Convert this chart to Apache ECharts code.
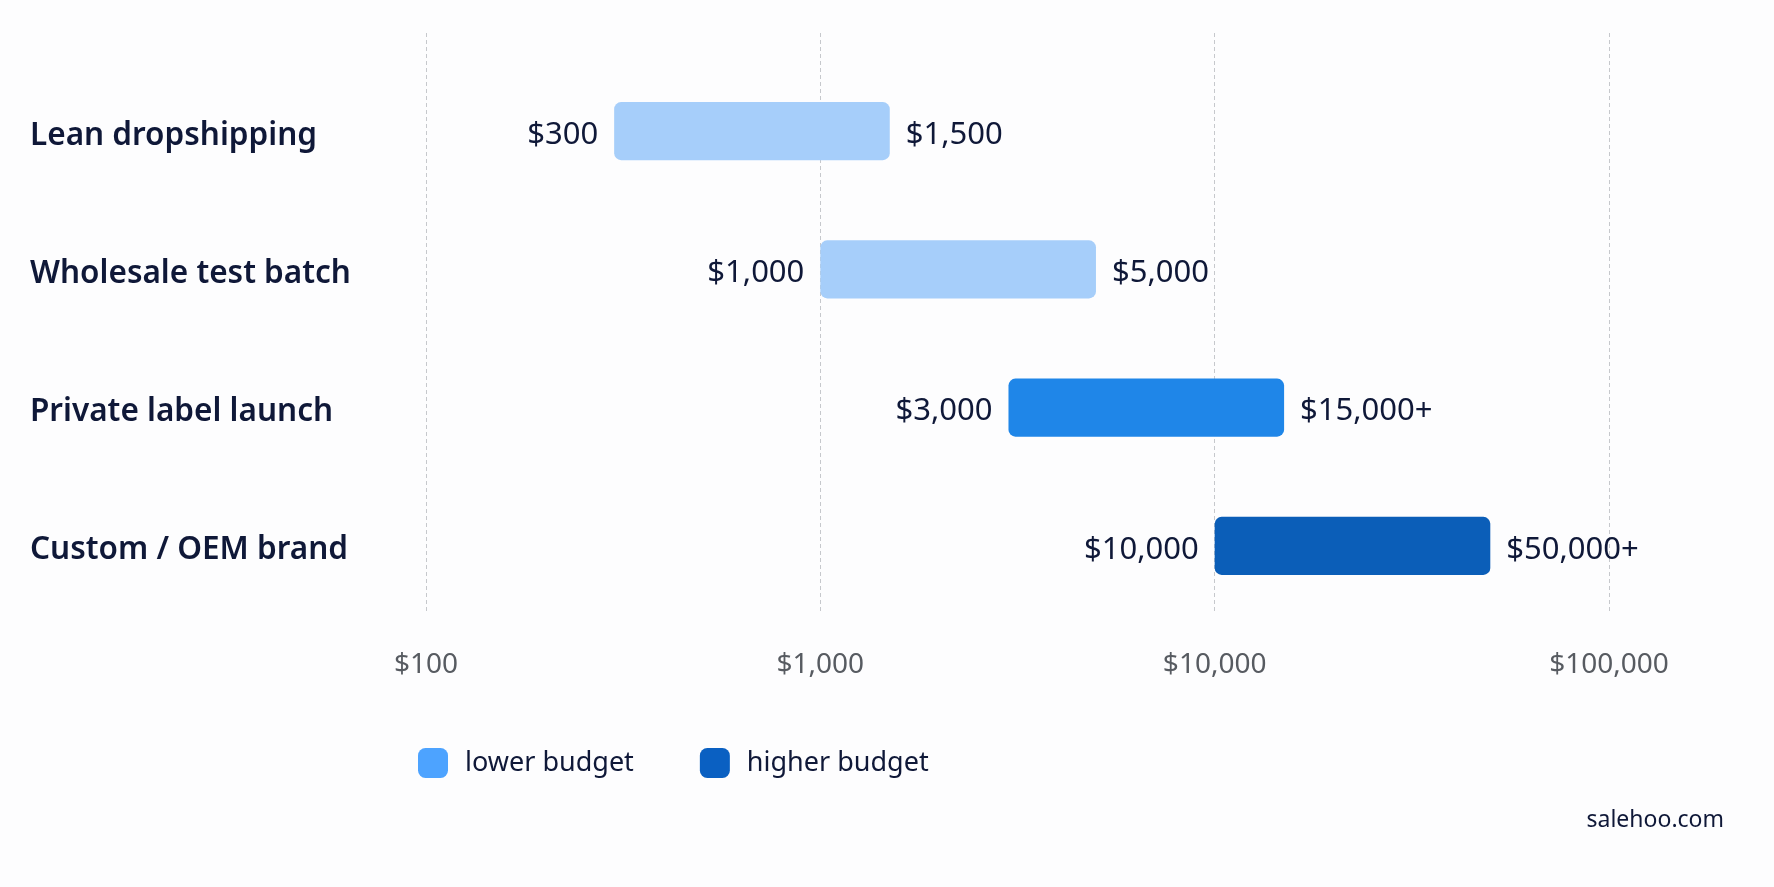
<!DOCTYPE html>
<html>
<head>
<meta charset="utf-8">
<script src="https://cdn.jsdelivr.net/npm/echarts@6/dist/echarts.min.js"></script>
<style>
  html, body { margin: 0; padding: 0; background: #fdfdfe; }
  #chart_budget { width: 1774px; height: 887px; }
</style>
</head>
<body>
<div id="chart_budget"></div>
<script>
// data
const categories = ["Lean dropshipping", "Wholesale test batch", "Private label launch", "Custom / OEM brand"];
const lowValues = [300, 1000, 3000, 10000];
const highValues = [1500, 5000, 15000, 50000];
const lowLabels = ["$300", "$1,000", "$3,000", "$10,000"];
const highLabels = ["$1,500", "$5,000", "$15,000+", "$50,000+"];
const tickValues = [100, 1000, 10000, 100000];
const legendNames = ["lower budget", "higher budget"];

const barColors = ["#a6cefa", "#a6cefa", "#1f86e8", "#0b5eb8"];
const legendColors = ["#4da3ff", "#0a60c2"];
const textColor = "#0f1838";
const fontFamily = "'Noto Sans', 'Open Sans', sans-serif";

const chart = echarts.init(document.getElementById("chart_budget"));

const logAxis = (gridIndex, showLabels) => ({
  type: "log",
  logBase: 10,
  gridIndex: gridIndex,
  min: tickValues[0],
  max: tickValues[tickValues.length - 1],
  axisLine: { show: false },
  axisTick: { show: false },
  axisLabel: {
    show: showLabels,
    margin: 38,
    fontSize: 28,
    fontFamily: fontFamily,
    color: "#575b61",
    formatter: (v) => "$" + Number(v).toLocaleString("en-US"),
  },
  splitLine: {
    show: showLabels,
    lineStyle: { color: "#c6c8cc", type: [4, 3], width: 1 },
  },
});

const option = {
  backgroundColor: "#fdfdfe",
  animation: false,
  grid: [
    { left: 426, right: 165, top: 33, bottom: 274 },
    { left: 426, right: 165, top: 62, height: 553 },
  ],
  xAxis: [logAxis(0, true), logAxis(1, false)],
  yAxis: [
    { type: "value", gridIndex: 0, show: false },
    {
      type: "category",
      gridIndex: 1,
      inverse: true,
      data: categories,
      axisLine: { show: false },
      axisTick: { show: false },
      axisLabel: {
        align: "left",
        margin: 396,
        formatter: "{c|{value}}",
        rich: {
          c: {
            padding: [9, 0, 0, 0],
            fontSize: 31.5,
            fontWeight: 600,
            fontFamily: fontFamily,
            color: textColor,
          },
        },
      },
    },
  ],
  legend: {
    data: legendNames,
    left: 413,
    top: 743,
    icon: "roundRect",
    itemWidth: 30,
    itemHeight: 30,
    itemGap: 66,
    textStyle: {
      fontSize: 27,
      fontFamily: fontFamily,
      color: textColor,
      padding: [0, 0, 0, 12],
    },
  },
  graphic: [
    {
      type: "text",
      right: 50,
      top: 809,
      style: {
        text: "salehoo.com",
        fontSize: 23,
        fontFamily: fontFamily,
        fill: textColor,
      },
    },
  ],
  series: [
    {
      name: "range",
      type: "custom",
      xAxisIndex: 1,
      yAxisIndex: 1,
      data: categories.map((c, i) => [i, lowValues[i], highValues[i]]),
      renderItem: function (params, api) {
        const i = api.value(0);
        const p0 = api.coord([api.value(1), i]);
        const p1 = api.coord([api.value(2), i]);
        const h = api.size([1, 1])[1] * 0.42;
        const labelStyle = {
          fontSize: 31,
          fontFamily: fontFamily,
          fill: textColor,
          verticalAlign: "middle",
        };
        return {
          type: "group",
          children: [
            {
              type: "rect",
              shape: { x: p0[0], y: p0[1] - h / 2, width: p1[0] - p0[0], height: h, r: 7 },
              style: { fill: barColors[i] },
            },
            {
              type: "text",
              style: Object.assign({ text: lowLabels[i], x: p0[0] - 16, y: p0[1] + 4, align: "right" }, labelStyle),
            },
            {
              type: "text",
              style: Object.assign({ text: highLabels[i], x: p1[0] + 16, y: p0[1] + 4, align: "left" }, labelStyle),
            },
          ],
        };
      },
    },
    { name: legendNames[0], type: "bar", xAxisIndex: 1, yAxisIndex: 1, data: [], itemStyle: { color: legendColors[0] } },
    { name: legendNames[1], type: "bar", xAxisIndex: 1, yAxisIndex: 1, data: [], itemStyle: { color: legendColors[1] } },
  ],
};

chart.setOption(option);
</script>
</body>
</html>
